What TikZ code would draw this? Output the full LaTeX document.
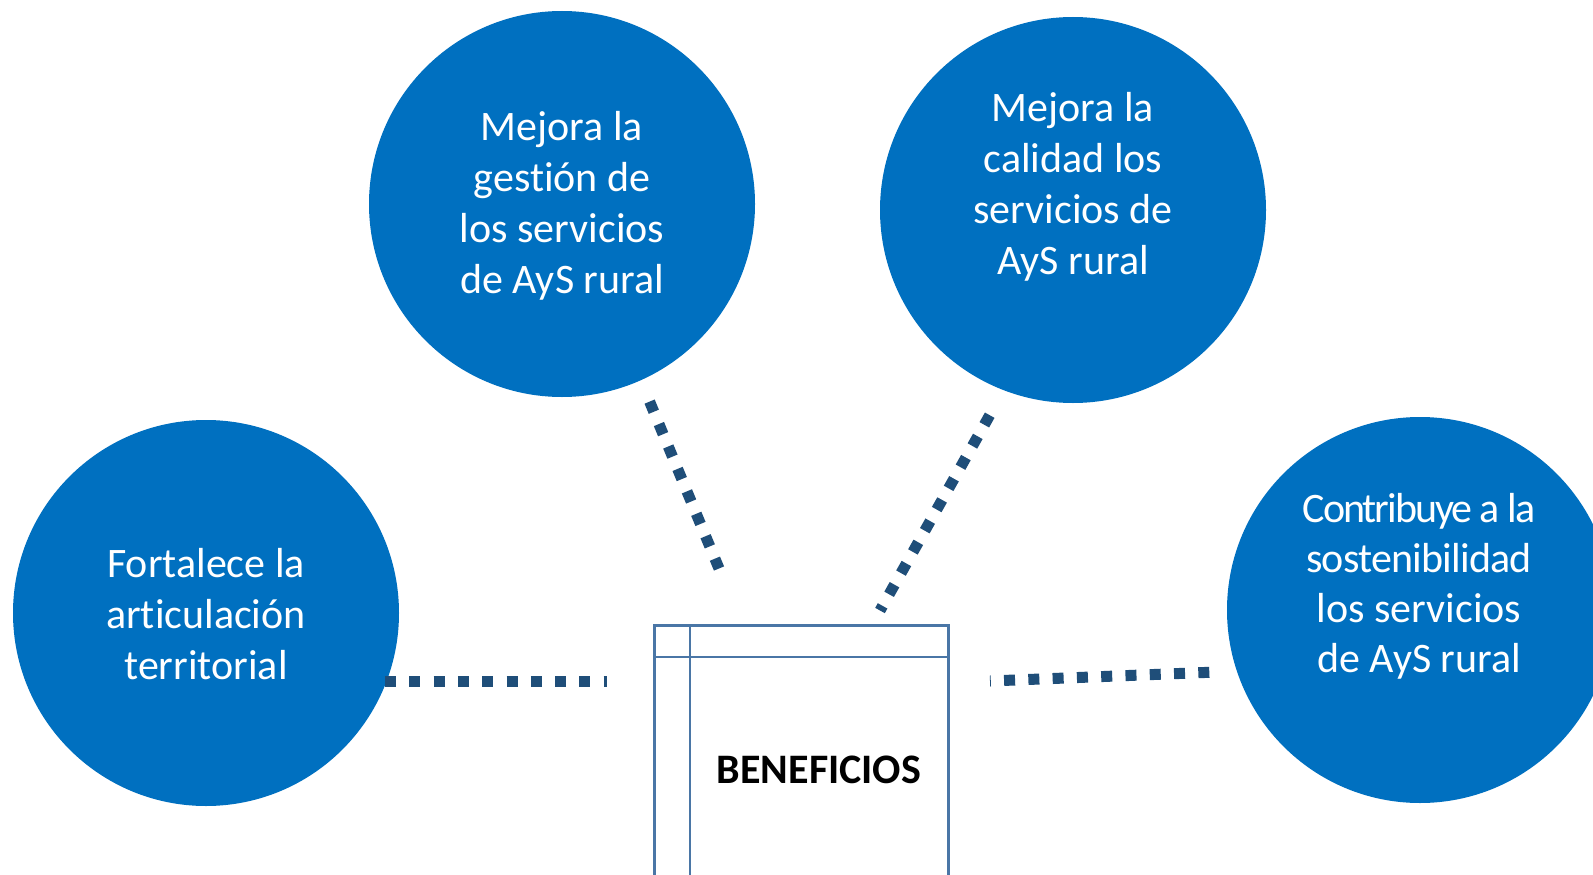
\documentclass[tikz,border=0pt]{standalone}
\usepackage{fontspec}
\setmainfont[Ligatures=NoCommon]{Carlito}
\definecolor{bubblecol}{HTML}{0070C0}
\definecolor{dotcol}{HTML}{1F4E79}
\definecolor{boxcol}{HTML}{4A76A6}
\begin{document}
\begin{tikzpicture}[x=1pt,y=-1pt,
  bubble/.style={circle,fill=bubblecol,draw=none,minimum size=386pt,inner sep=0pt},
  bubtext/.style={text=white,align=center,font=\fontsize{42}{51}\selectfont,inner sep=0pt},
  bubtextsmall/.style={bubtext,font=\fontsize{42}{50}\selectfont},
  dotline/.style={draw=dotcol,line width=11pt,dash pattern=on 11pt off 13.3pt},
  boxline/.style={draw=boxcol,line width=2.6pt}]
\useasboundingbox (0,0) rectangle (1593,875);
\clip (0,0) rectangle (1593,875);
\fill[white] (0,0) rectangle (1593,875);
% circles
\node[bubble] (c1) at (206,613) {};
\node[bubble] (c2) at (562,204) {};
\node[bubble] (c3) at (1073,210) {};
\node[bubble] (c4) at (1420,610) {};
\node[bubtext] (t1) at (206,614) {Fortalece la\\articulación\\territorial};
\node[bubtext] (t2) at (562,206) {Mejora la\\gestión de\\los servicios\\de AyS rural};
\node[bubtext] (t3) at (1073,187) {Mejora la\\calidad los\\servicios de\\AyS rural};
\node[bubtextsmall] (t4) at (1419,586) {{\addfontfeature{LetterSpace=-4.8}Contribuye a la}\\{\addfontfeature{LetterSpace=-1.9}sostenibilidad}\\los servicios\\de AyS rural};
% box
\node[boxline,rectangle,minimum width=294pt,minimum height=290pt,anchor=north west,inner sep=0pt] (box) at (653,624) {};
\coordinate (bv1) at (690,624);
\coordinate (bv2) at (690,900);
\coordinate (bh1) at (653,657);
\coordinate (bh2) at (947,657);
\draw[boxline] (bv1) -- (bv2);
\draw[boxline] (bh1) -- (bh2);
\node[font=\bfseries\fontsize{42}{50}\selectfont,text=black,inner sep=0pt] (lbl) at (819,770) {BENEFICIOS};
% connectors
\coordinate (l1a) at (385,681);
\coordinate (l1b) at (607,681);
\coordinate (l2a) at (649.6,401.6);
\coordinate (l2b) at (719,568.5);
\coordinate (l3a) at (989.7,415.2);
\coordinate (l3b) at (880,610.5);
\coordinate (l4a) at (1209.3,672.3);
\coordinate (l4b) at (990,681);
\draw[dotline] (l1a) -- (l1b);
\draw[dotline] (l2a) -- (l2b);
\draw[dotline] (l3a) -- (l3b);
\draw[dotline] (l4a) -- (l4b);
\end{tikzpicture}
\end{document}
